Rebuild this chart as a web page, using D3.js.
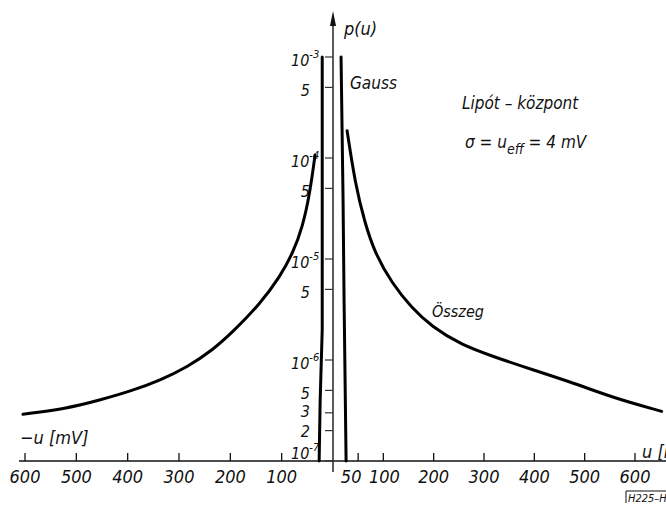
<!DOCTYPE html>
<html>
<head>
<meta charset="utf-8">
<script src="https://cdn.jsdelivr.net/npm/d3@7"></script>
<style>
  body { margin: 0; background: #fff; }
  svg { display: block; }
  text { font-family: "DejaVu Sans Condensed", "Liberation Sans Narrow", sans-serif; font-style: italic; fill: #111; }
</style>
</head>
<body>
<svg id="chart" width="666" height="506"></svg>
<script>
// u in mV, p(u) probability density
var leftU = [-604, -520, -455, -390, -337, -284, -234, -195, -142, -103, -78, -59, -45, -35];
var leftP = [2.9e-7, 3.3e-7, 4.0e-7, 5.0e-7, 6.3e-7, 8.5e-7, 1.26e-6, 1.9e-6, 3.6e-6, 6.7e-6, 1.15e-5, 2.1e-5, 4.5e-5, 1.07e-4];
var rightU = [28, 44, 63, 83, 117, 156, 196, 255, 321, 400, 479, 558, 653];
var rightP = [1.86e-4, 5.6e-5, 2.3e-5, 1.15e-5, 5.75e-6, 3.3e-6, 2.14e-6, 1.41e-6, 1.07e-6, 7.9e-7, 5.9e-7, 4.2e-7, 3.1e-7];
var gaussLeftU = [-21, -21, -25, -27];
var gaussLeftP = [1e-3, 2e-6, 4e-7, 1e-7];
var gaussRightU = [16, 20, 22, 26];
var gaussRightP = [1e-3, 3.8e-5, 3.9e-6, 1e-7];

var xTicksLeft = [-600, -500, -400, -300, -200, -100];
var xTicksRight = [50, 100, 200, 300, 400, 500, 600];
var yTicks = [1e-3, 5e-4, 1e-4, 5e-5, 1e-5, 5e-6, 1e-6, 5e-7, 3e-7, 2e-7, 1e-7];
var yTickLabels = ["10|-3", "5", "10|-4", "5", "10|-5", "5", "10|-6", "5", "3", "2", "10|-7"];

var svg = d3.select("#chart");
var x = d3.scaleLinear().domain([-600, 0, 600]).range([25, 333, 635]);
var y = d3.scaleLog().domain([1e-7, 1e-3]).range([461, 57]);
var x0 = x(0), y0 = y(1e-7);

// axes
svg.append("line").attr("x1", 19).attr("x2", 666).attr("y1", y0).attr("y2", y0)
  .attr("stroke", "#111").attr("stroke-width", 1.6);
svg.append("line").attr("x1", x0).attr("x2", x0).attr("y1", 472).attr("y2", 20)
  .attr("stroke", "#333").attr("stroke-width", 1.6);
svg.append("path").attr("d", "M" + x0 + ",11 L" + (x0 - 3) + ",26 L" + (x0 + 3) + ",26 Z").attr("fill", "#111");

var xTicks = xTicksLeft.concat(xTicksRight);
svg.selectAll(".xt").data(xTicks).enter().append("line")
  .attr("x1", function(d) { return x(d); }).attr("x2", function(d) { return x(d); })
  .attr("y1", y0).attr("y2", y0 - 8).attr("stroke", "#111").attr("stroke-width", 1.3);
svg.selectAll(".xl").data(xTicks).enter().append("text")
  .attr("x", function(d) {
    if (d === 50) return x(d) - 7;
    if (d === 100) return x(d) + 1;
    return x(d);
  }).attr("y", 483)
  .attr("text-anchor", "middle").attr("font-size", 18)
  .text(function(d) { return Math.abs(d); });

svg.selectAll(".yt").data(yTicks).enter().append("line")
  .attr("x1", x0 - 8).attr("x2", x0).attr("y1", function(d) { return y(d); }).attr("y2", function(d) { return y(d); })
  .attr("stroke", "#333").attr("stroke-width", 1.2);

function labelDy(d) {
  if (d === 1e-7) return -2;
  if (d === 2e-7) return 6;
  if (d === 3e-7) return 4;
  return 9;
}
var yl = svg.selectAll(".yl").data(yTicks).enter().append("text")
  .attr("x", 310).attr("y", function(d) { return y(d) + labelDy(d); })
  .attr("text-anchor", "end").attr("font-size", 16);
yl.each(function(d, i) {
  var parts = yTickLabels[i].split("|");
  var t = d3.select(this);
  if (parts.length > 1) {
    t.attr("x", 291).attr("text-anchor", "start");
    t.append("tspan").text(parts[0]);
    t.append("tspan").attr("dy", -8).attr("font-size", 11).text(parts[1]);
  } else {
    t.text(parts[0]);
  }
});

// curves
var line = d3.line()
  .x(function(d) { return x(d[0]); })
  .y(function(d) { return y(d[1]); });
function draw(us, ps, curve, w) {
  svg.append("path").datum(d3.zip(us, ps))
    .attr("d", line.curve(curve))
    .attr("fill", "none").attr("stroke", "#000").attr("stroke-width", w)
    .attr("stroke-linecap", "round");
}
draw(leftU, leftP, d3.curveBasis, 3);
draw(rightU, rightP, d3.curveBasis, 3);
draw(gaussLeftU, gaussLeftP, d3.curveLinear, 3);
draw(gaussRightU, gaussRightP, d3.curveLinear, 3);

// labels
svg.append("text").attr("x", 344).attr("y", 35).attr("font-size", 18).text("p(u)");
svg.append("text").attr("x", 350).attr("y", 89).attr("font-size", 17).text("Gauss");
svg.append("text").attr("x", 462).attr("y", 109).attr("font-size", 17).text("Lipót – központ");
var s = svg.append("text").attr("x", 465).attr("y", 148).attr("font-size", 17);
s.append("tspan").text("σ = u");
s.append("tspan").attr("dy", 6).attr("font-size", 14).text("eff");
s.append("tspan").attr("dy", -6).text(" = 4 mV");
svg.append("text").attr("x", 432).attr("y", 317).attr("font-size", 16).text("Összeg");
svg.append("text").attr("x", 20).attr("y", 444).attr("font-size", 18).text("−u [mV]");
svg.append("text").attr("x", 642).attr("y", 458).attr("font-size", 18).text("u [mV]");

svg.append("path").attr("d", "M626,503 L626,491 L666,491").attr("fill", "none").attr("stroke", "#111").attr("stroke-width", 1);
svg.append("text").attr("x", 628).attr("y", 502).attr("font-size", 11).text("H225–H");
</script>
</body>
</html>
